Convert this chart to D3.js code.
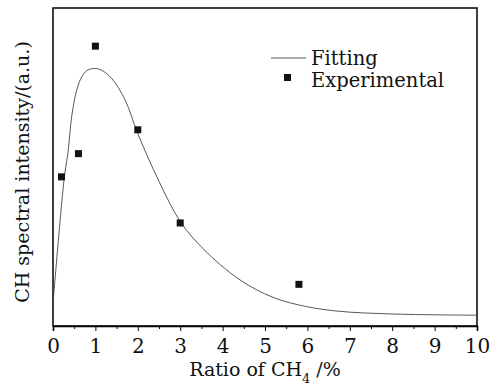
<!DOCTYPE html>
<html>
<head>
<meta charset="utf-8">
<script src="https://cdn.jsdelivr.net/npm/d3@7"></script>
<style>
  body { margin: 0; background: #fff; }
  svg { display: block; }
</style>
</head>
<body>
<svg id="chart" width="491" height="390"></svg>
<script>
// measured points (x = CH4 ratio %, y = intensity a.u.)
const expX = [0.2, 0.6, 1.0, 2.0, 3.0, 5.8]
const expY = [0.469, 0.542, 0.880, 0.617, 0.324, 0.131]

// fitted curve
const fitX = [0, 0.26, 0.36, 0.44, 0.56, 0.68, 0.80, 0.97, 1.15, 1.38, 1.70, 2.0, 2.5, 3.0, 3.54, 4.41, 5.19, 5.98, 6.77, 7.95, 9.13, 10]
const fitY = [0.07, 0.459, 0.553, 0.658, 0.742, 0.784, 0.803, 0.810, 0.804, 0.779, 0.711, 0.605, 0.455, 0.329, 0.243, 0.145, 0.09, 0.061, 0.046, 0.038, 0.035, 0.034]

const xTicks = [0, 1, 2, 3, 4, 5, 6, 7, 8, 9, 10]

const margin = {top: 8, right: 14, bottom: 64, left: 53}
const width = 491, height = 390

const svg = d3.select("#chart")
const x = d3.scaleLinear().domain([0, 10]).range([margin.left, width - margin.right])
const y = d3.scaleLinear().domain([0, 1]).range([height - margin.bottom, margin.top])

const font = "DejaVu Serif, serif"

// frame
svg.append("rect")
    .attr("x", margin.left).attr("y", margin.top)
    .attr("width", x(10) - x(0)).attr("height", y(0) - y(1))
    .attr("fill", "none").attr("stroke", "#111").attr("stroke-width", 1.6)

// bottom axis, major + minor ticks
const xAxis = svg.append("g")
    .attr("transform", `translate(0,${y(0)})`)
    .call(d3.axisBottom(x).tickValues(xTicks).tickSize(5).tickPadding(8).tickFormat(d3.format("d")))
xAxis.select(".domain").attr("stroke-width", 1.6)
xAxis.selectAll("text").attr("font-family", font).attr("font-size", 20).attr("fill", "#111")
svg.append("g")
    .attr("transform", `translate(0,${y(0)})`)
    .call(d3.axisBottom(x).tickValues(d3.range(0.5, 10, 1)).tickSize(3).tickFormat(""))
    .select(".domain").remove()

// fit line
const line = d3.line().curve(d3.curveCatmullRom.alpha(0.5)).x(d => x(d[0])).y(d => y(d[1]))
svg.append("path")
    .datum(d3.zip(fitX, fitY))
    .attr("fill", "none").attr("stroke", "#444").attr("stroke-width", 0.9)
    .attr("d", line)

// experimental squares
svg.append("g").selectAll("rect")
    .data(d3.zip(expX, expY))
    .join("rect")
    .attr("x", d => x(d[0]) - 3.5).attr("y", d => y(d[1]) - 3.5)
    .attr("width", 7).attr("height", 7).attr("fill", "#111")

// legend
const lg = svg.append("g").attr("font-family", font).attr("font-size", 19.5).attr("fill", "#111")
lg.append("line").attr("x1", 271).attr("x2", 306).attr("y1", 58).attr("y2", 58)
    .attr("stroke", "#444").attr("stroke-width", 0.9)
lg.append("text").attr("x", 311).attr("y", 65).text("Fitting")
lg.append("rect").attr("x", 284).attr("y", 74).attr("width", 7).attr("height", 7).attr("fill", "#111")
lg.append("text").attr("x", 311).attr("y", 87).text("Experimental")

// axis titles
const xt = svg.append("text")
    .attr("x", (x(0) + x(10)) / 2).attr("y", 376)
    .attr("text-anchor", "middle").attr("font-family", font).attr("font-size", 19).attr("fill", "#111")
xt.append("tspan").text("Ratio of CH")
xt.append("tspan").attr("font-size", 13).attr("dy", 7).text("4")
xt.append("tspan").attr("dy", -7).text(" /%")

svg.append("text")
    .attr("transform", `translate(29,${(y(0) + y(1)) / 2 + 5}) rotate(-90)`)
    .attr("text-anchor", "middle").attr("font-family", font).attr("font-size", 19).attr("fill", "#111")
    .text("CH spectral intensity/(a.u.)")
</script>
</body>
</html>
